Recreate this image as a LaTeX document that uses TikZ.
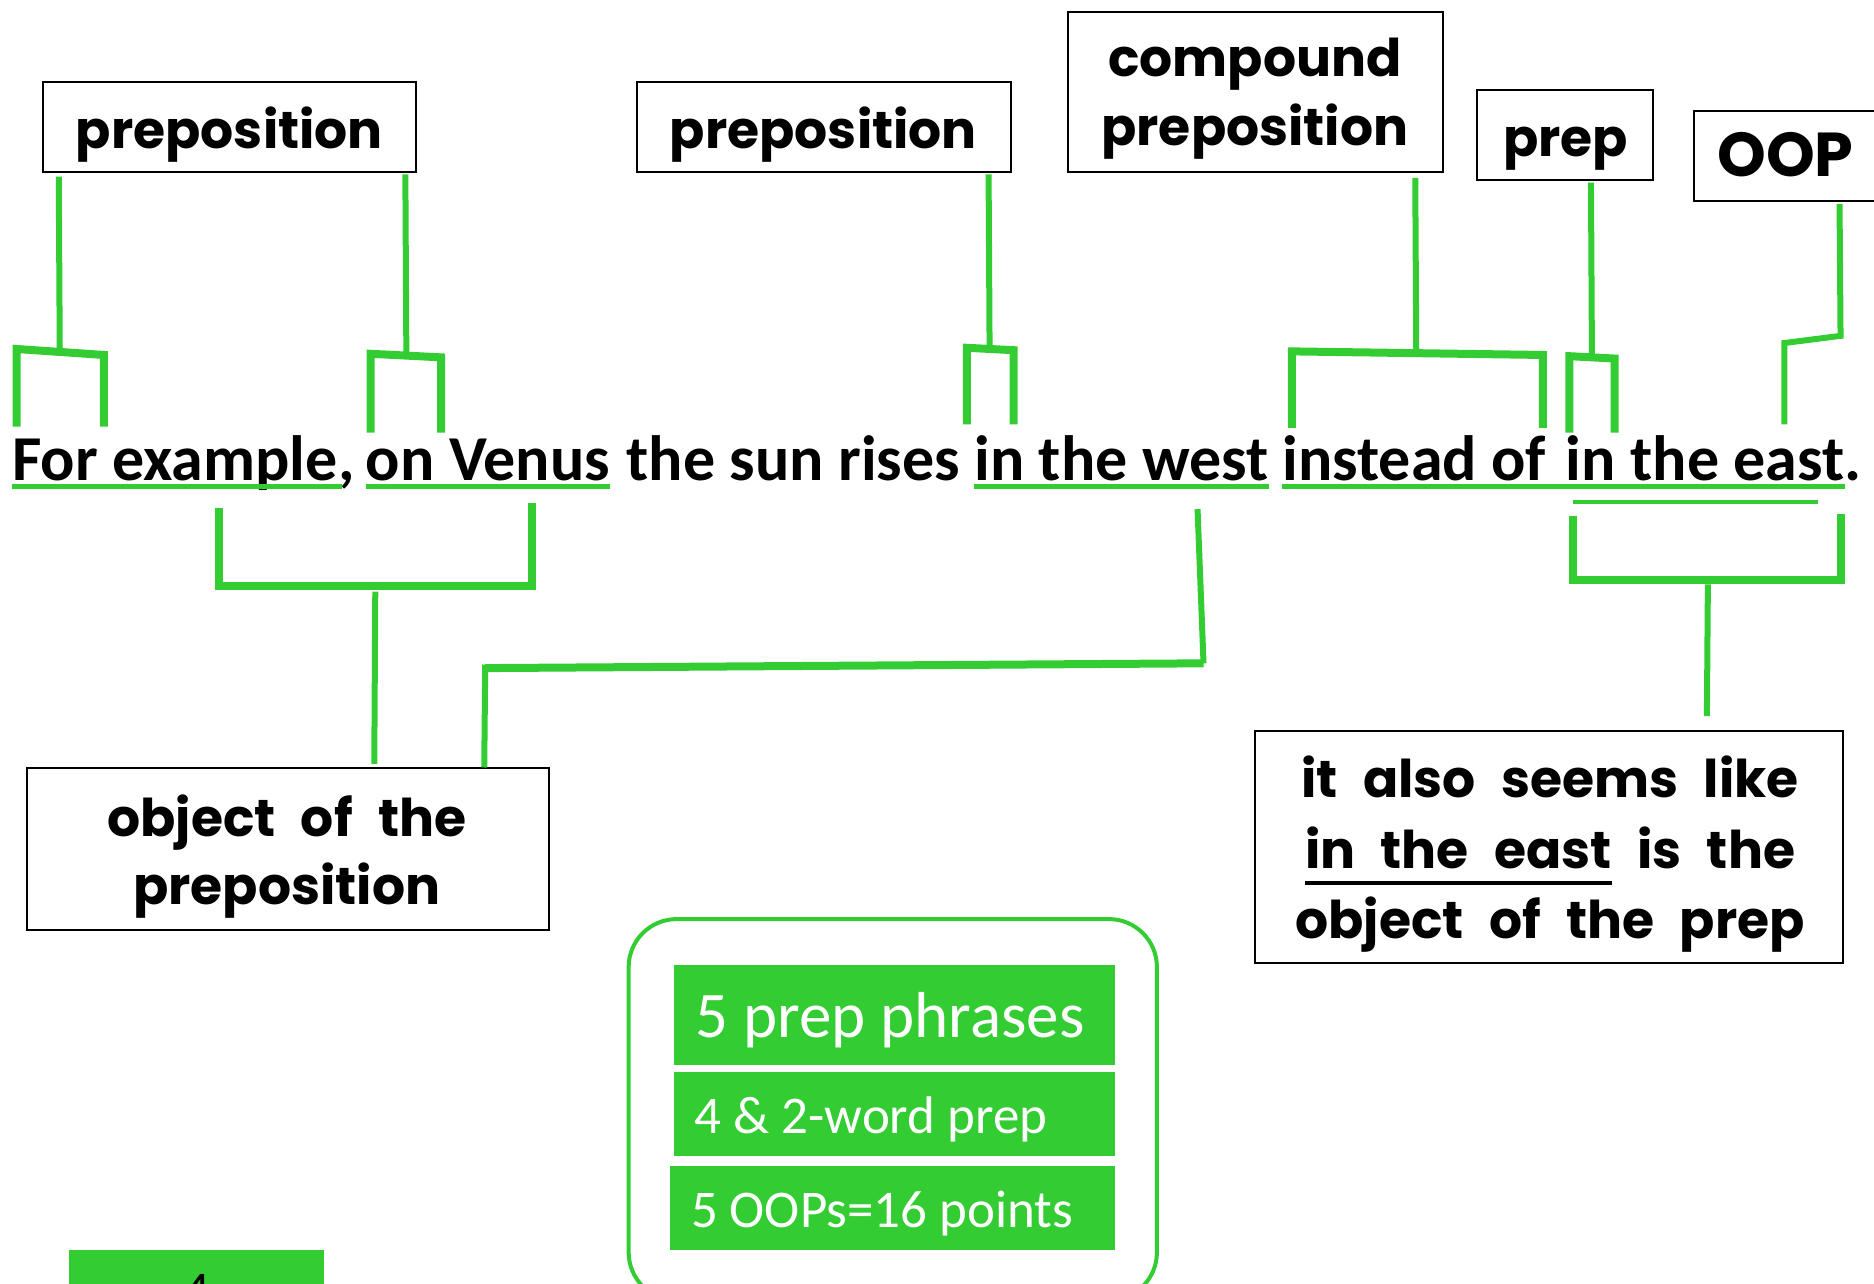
\documentclass[tikz,border=0pt]{standalone}
\usepackage{fontspec}
\setmainfont{Carlito}
\newfontfamily\comic[WordSpace=2.3]{Poppins}
\usetikzlibrary{fit,calc}
\definecolor{gr}{RGB}{51,204,51}
\newcommand\thickul[1]{\setbox0\hbox{#1}\rlap{\raisebox{-16pt}{\rule{\wd0}{4pt}}}\box0\relax}
\begin{document}
\begin{tikzpicture}[x=1.1952pt,y=-1.1952pt,
  box/.style={draw=black, line width=2pt, inner sep=0pt},
  lbl/.style={font=\comic\bfseries\fontsize{52}{60}\selectfont, inner sep=0pt, anchor=base},
  sent/.style={font=\bfseries\fontsize{64}{70}\selectfont, inner sep=0pt, anchor=base west},
  gl/.style={draw=gr, line width=6pt},
  gbar/.style={draw=gr, line width=8pt},
  gul/.style={draw=gr, line width=5pt},
  gfill/.style={fill=gr, inner sep=0pt},
  gtxt/.style={text=white, inner sep=0pt, anchor=base west}
]
\useasboundingbox (0,0) rectangle (1568,1074);
% label boxes
\node[box, fit={(36,69)(348,144)}] (p1) {};
\node[lbl] (p1t) at (192,124) {preposition};
\node[box, fit={(533,69)(846,144)}] (p2) {};
\node[lbl] (p2t) at (689,124) {preposition};
\node[box, fit={(894,10)(1207,144)}] (cp) {};
\node[lbl] (cpa) at (1050,64) {compound};
\node[lbl] (cpb) at (1050,122) {preposition};
\node[box, fit={(1236,75)(1383,151)}] (pr) {};
\node[lbl] (prt) at (1310,131) {prep};
\node[box, fit={(1417,93)(1590,168)}] (oop) {};
\node[lbl, font=\comic\bfseries\fontsize{62}{70}\selectfont] (oopt) at (1494,148) {OOP};
\node[box, fit={(23,643)(459,778)}] (obj) {};
\node[lbl] (obja) at (240,700) {object of the};
\node[lbl] (objb) at (240,757) {preposition};
\node[box, fit={(1050,612)(1542,806)}] (rt) {};
\node[lbl] (rta) at (1297,667) {it also seems like};
\node[lbl] (rtb) at (1297,727) {\thickul{in the east} is the};
\node[lbl] (rtc) at (1297,785) {object of the prep};
% sentence
\node[sent] (w1) at (10,402) {For example};
\node[sent] (w1c) at (w1.base east) {,};
\node[sent] (w2) at (306,402) {on Venus};
\node[sent] (w3) at (524,402) {the sun rises};
\node[sent] (w4) at (815,402) {in the west};
\node[sent] (w5) at (1073,402) {instead of};
\node[sent] (w6) at (1310,402) {in the east};
\node[sent] (w6p) at (w6.base east) {.};
% underlines
\draw[gul] ($(w1.base west)+(0,5)$) -- ($(w1.base east)+(3,5)$);
\draw[gul] ($(w2.base west)+(0,5)$) -- ($(w2.base east)+(0,5)$);
\draw[gul] ($(w4.base west)+(0,5)$) -- ($(w4.base east)+(0,5)$);
\draw[gul] ($(w5.base west)+(0,5)$) -- ($(w6.base east)+(0,5)$);
\draw[draw=gr, line width=4pt] ($(w6.base west)+(6,18)$) -- ($(w6.base east)+(-22,18)$);
% upper brackets
\coordinate (a1) at (14,357); \coordinate (a2) at (14,292); \coordinate (a3) at (87,297); \coordinate (a4) at (87,357);
\draw[gl] ($(p1.south west)+(14,3)$) -- (50,294);
\draw[gbar] (a1) -- (a2) -- (a3) -- (a4);
\coordinate (b1) at (310,362); \coordinate (b2) at (310,296); \coordinate (b3) at (369,299); \coordinate (b4) at (369,362);
\draw[gl] ($(p1.south west)+(304,1)$) -- (340,297);
\draw[gbar] (b1) -- (b2) -- (b3) -- (b4);
\coordinate (c1) at (809,355); \coordinate (c2) at (809,291); \coordinate (c3) at (848,293); \coordinate (c4) at (848,355);
\draw[gl] ($(p2.south west)+(295,1)$) -- (828,292);
\draw[gbar] (c1) -- (c2) -- (c3) -- (c4);
\coordinate (d1) at (1081,358); \coordinate (d2) at (1081,294); \coordinate (d3) at (1291,297); \coordinate (d4) at (1291,358);
\draw[gl] ($(cp.south west)+(291,4)$) -- (1185,295);
\draw[gbar] (d1) -- (d2) -- (d3) -- (d4);
\coordinate (e1) at (1313,362); \coordinate (e2) at (1313,298); \coordinate (e3) at (1351,300); \coordinate (e4) at (1351,362);
\draw[gl] ($(pr.south west)+(96,1)$) -- (1332,299);
\draw[gbar] (e1) -- (e2) -- (e3) -- (e4);
\coordinate (f1) at (1493,355); \coordinate (f2) at (1493,287); \coordinate (f3) at (1540,281);
\draw[gl] ($(oop.south west)+(123,2)$) -- (f3) -- (f2) -- (f1);
% lower brackets
\coordinate (g1) at (183,425); \coordinate (g2) at (183,490); \coordinate (g3) at (445,490); \coordinate (g4) at (445,421);
\draw[gbar] (g1) -- (g2) -- (g3) -- (g4);
\coordinate (gs) at (314,495);
\draw[gl] (gs) -- ($(obj.north west)+(291,-3)$);
\coordinate (h1) at (1002,426); \coordinate (h2) at (1007,555); \coordinate (h3) at (406,559);
\draw[gl] (h1) -- (h2);
\draw[gbar] (h2) -- (h3);
\draw[gl] ($(h3)+(0,-3)$) -- ($(obj.north west)+(383,0)$);
\coordinate (k1) at (1316,432); \coordinate (k2) at (1316,485); \coordinate (k3) at (1540,485); \coordinate (k4) at (1540,430);
\draw[gbar] (k1) -- (k2) -- (k3) -- (k4);
\coordinate (ks) at (1429,489);
\draw[gl] (ks) -- ($(rt.north west)+(379,-12)$);
% summary box
\node[draw=gr, line width=4pt, rounded corners=48pt, inner sep=0pt, fit={(526,769)(968,1088)}] (sum) {};
\node[gfill, fit={(564,807)(933,891)}] (s1) {};
\node[gtxt, font=\fontsize{65}{70}\selectfont] (s1t) at (582,868) {5 prep phrases};
\node[gfill, fit={(564,897)(933,967)}] (s2) {};
\node[gtxt, font=\fontsize{53}{60}\selectfont] (s2t) at (581,948) {4 \& 2-word prep};
\node[gfill, fit={(561,976)(933,1046)}] (s3) {};
\node[gtxt, font=\fontsize{53}{60}\selectfont] (s3t) at (578,1027) {5 OOPs=16 points};
\node[gfill, fit={(58,1046)(271,1110)}] (n4) {};
\node[inner sep=0pt, anchor=base, font=\fontsize{53}{60}\selectfont] (n4t) at (165,1095) {4};
\end{tikzpicture}
\end{document}
